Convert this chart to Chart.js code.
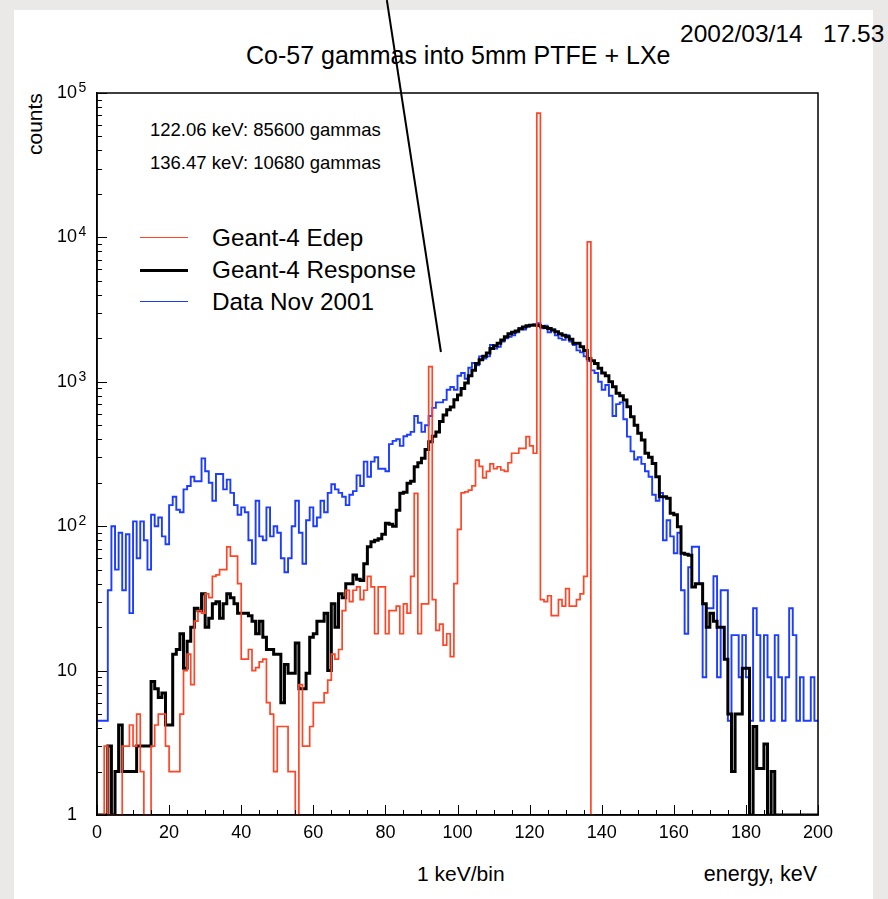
<!DOCTYPE html>
<html><head><meta charset="utf-8">
<script src="https://cdn.jsdelivr.net/npm/chart.js@4.4.0/dist/chart.umd.min.js"></script>
<style>
html,body{margin:0;padding:0;}
body{width:888px;height:899px;overflow:hidden;background:#ebe8e8;position:relative;font-family:"Liberation Sans",Arial,Helvetica,sans-serif;}
#panel{position:absolute;left:14px;top:10px;width:859px;height:889px;background:#fff;}
.t{position:absolute;white-space:pre;line-height:1;color:#000;}
.sw{position:absolute;left:140px;width:48px;height:0;}
canvas{position:absolute;left:0;top:0;}
</style></head><body>
<div id="panel"></div>
<div class="t" style="left:680px;top:22px;font-size:24.5px">2002/03/14   17.53</div>
<div class="t" style="left:246px;top:43px;font-size:25px">Co-57 gammas into 5mm PTFE + LXe</div>
<div class="t" style="left:150px;top:121px;font-size:18.5px">122.06 keV: 85600 gammas</div>
<div class="t" style="left:150px;top:154px;font-size:18.5px">136.47 keV: 10680 gammas</div>
<div class="sw" style="top:237px;border-top:1.5px solid #ff4526"></div>
<div class="sw" style="top:268.5px;border-top:3px solid #000"></div>
<div class="sw" style="top:301px;border-top:1.5px solid #1c3cff"></div>
<div class="t" style="left:212px;top:226px;font-size:24.3px">Geant-4 Edep</div>
<div class="t" style="left:212px;top:258px;font-size:24.3px">Geant-4 Response</div>
<div class="t" style="left:212px;top:290px;font-size:24.3px">Data Nov 2001</div>
<div class="t" style="left:24px;top:155px;font-size:21px;transform-origin:0 0;transform:rotate(-90deg)">counts</div>
<div class="t" style="left:417px;top:863px;font-size:21px">1 keV/bin</div>
<div class="t" style="right:71px;top:864px;font-size:21.5px">energy, keV</div>
<canvas id="c" width="888" height="899"></canvas>
<script>
// ---- data (1 keV bins, counts per bin; 1 = empty bin drawn on the axis) ----
const binWidth = 1;
const edepCounts = [
 1,1,3,1,1,1,1,3,3,4.2,
 3,5,2,1,1,3,4.2,5,5,3,
 2,2,2,5,10,13,8,22,26,25,
 34,32,45,46,50,50,72,62,62,40,
 12,12,14,10,10.5,11.5,12,6,5,2,
 4.1,4.1,4.1,2,2,1,8,3,3,4.1,
 6,6,6,7,8.6,13,12,14,26,36,
 30,36,38,31,36,45,38,18,38,38,
 18,26,26,28,18,29,25,45,169,18,
 29,29,1273,31,19,21,15,18,12.5,40,
 95,170,173,178,190,287,260,216,240,270,
 250,258,245,240,275,320,320,346,346,417,
 360,320,72600,31,30,33,24,24,31,28,
 37,28,28,31,34,45,9300,1
];
const responseCounts = [
 1,1,1,3,1,2,4.2,2,2,2,
 2,3,3,3,3,8.4,7.5,6.5,7,4.2,
 4.2,13,14,18,10.4,16,20,27,26,34,
 20,23,29,30,23,29,34,32,29,25,
 25,25,24,22,18,22,17,14,14,13,
 13,6,11,9.6,9.6,15.5,7.5,7.5,9.6,17,
 18,22,22,25,10,29,20,34,32,40,
 40,46,43,42,55,72,78,80,82,88,
 105,103,100,129,169,172,198,205,258,275,
 295,340,385,420,450,530,590,640,670,750,
 810,900,980,1100,1200,1340,1420,1500,1580,1700,
 1780,1850,1950,2050,2150,2200,2250,2330,2400,2440,
 2460,2470,2450,2420,2380,2340,2280,2220,2150,2100,
 2050,1970,1850,1850,1750,1650,1450,1400,1340,1240,
 1150,1100,1000,925,832,800,748,672,573,500,
 440,395,320,300,272,220,160,160,156,123,
 120,99,65,64,63,38,40,40,29,20,
 25,22,20,20,12,5,2,5,5,10.4,
 10.4,1,4.1,2.1,2.1,3.1,1,2,1,1,
 1,1,1,1,1,1,1,1,1,1
];
const dataNov2001Counts = [
 4.5,4.5,4.5,36,100,50,90,36,88,25,
 108,60,108,80,50,120,100,115,85,75,
 140,160,130,125,180,190,220,205,205,295,
 240,200,150,230,230,180,210,170,140,120,
 135,125,80,55,150,85,80,135,85,100,
 90,60,48,60,100,150,90,55,110,135,
 100,115,150,125,170,195,180,170,160,140,
 165,175,225,190,280,220,280,300,250,250,
 240,370,390,400,360,420,430,450,580,520,
 450,500,580,660,720,720,750,880,920,880,
 1100,1150,1050,1250,1350,1300,1500,1450,1500,1800,
 1700,1750,1900,2000,2050,2100,2200,2350,2300,2400,
 2480,2500,2550,2350,2450,2200,2300,2100,2000,1950,
 2100,1900,1800,1650,1600,1500,1400,1200,1150,1000,
 880,950,800,580,700,720,550,417,330,290,
 300,270,240,220,165,150,170,80,110,85,
 65,90,36,18,52,72,72,40,9,27,
 27,45,9,36,36,4.5,17.6,17.6,9,17.6,
 9,4.5,27,17.6,4.5,17.6,9,4.5,17.6,9,
 4.5,9,27,17.6,4.5,9,4.5,4.5,9,4.5
];
// ---- axes ----
const xTickValues = [0,20,40,60,80,100,120,140,160,180,200];
const xTickLabels = ['0','20','40','60','80','100','120','140','160','180','200'];
const xMinorStep = 5;
const yTickValues = [1,10,100,1000,10000,100000];
const yTickLabels = ['1','10','10','10','10','10'];
const yTickExponents = ['','','2','3','4','5'];
// annotation line (energy, counts) of its two ends
const arrowEnergy = [80.4, 95.4];
const arrowCounts = [440000, 1608];

const RED = '#ff4526', BLUE = '#1c3cff';
const Y_LABEL_PAD = 20;

function toSteps(arr){
  const pts = arr.map((v,i)=>({x:i*binWidth, y:v}));
  pts.push({x:arr.length*binWidth, y:arr[arr.length-1]});
  return pts;
}

const decor = {
  id:'decor',
  afterDraw(chart){
    const {ctx, chartArea:a, scales:{x,y}} = chart;
    ctx.save();
    ctx.strokeStyle = '#000';
    ctx.lineWidth = 1;
    ctx.beginPath();
    const xmin = xTickValues[0], xmax = xTickValues[xTickValues.length-1];
    for (let e = xmin; e <= xmax; e += xMinorStep){
      const px = Math.round(x.getPixelForValue(e)) + 0.5;
      const len = xTickValues.includes(e) ? 10 : 5;
      ctx.moveTo(px, a.bottom); ctx.lineTo(px, a.bottom - len);
    }
    yTickValues.forEach((dec,k)=>{
      const py = Math.round(y.getPixelForValue(dec)) + 0.5;
      ctx.moveTo(a.left, py); ctx.lineTo(a.left + 10, py);
      if (k < yTickValues.length - 1){
        for (let m = 2; m <= 9; m++){
          const p = Math.round(y.getPixelForValue(dec*m)) + 0.5;
          ctx.moveTo(a.left, p); ctx.lineTo(a.left + 5, p);
        }
      }
    });
    ctx.stroke();
    ctx.lineWidth = 1.5;
    ctx.strokeRect(a.left, a.top, a.right - a.left, a.bottom - a.top);
    // exponents of the decade labels
    ctx.fillStyle = '#000';
    ctx.font = '14px "Liberation Sans", Arial, sans-serif';
    ctx.textAlign = 'left';
    ctx.textBaseline = 'alphabetic';
    yTickValues.forEach((dec,k)=>{
      if (yTickExponents[k]) ctx.fillText(yTickExponents[k], a.left - Y_LABEL_PAD + 1.5, y.getPixelForValue(dec) - 1);
    });
    // annotation line
    ctx.lineWidth = 2;
    ctx.beginPath();
    ctx.moveTo(x.getPixelForValue(arrowEnergy[0]), y.getPixelForValue(arrowCounts[0]));
    ctx.lineTo(x.getPixelForValue(arrowEnergy[1]), y.getPixelForValue(arrowCounts[1]));
    ctx.stroke();
    ctx.restore();
  }
};

const tickFont = {family:'"Liberation Sans", Arial, sans-serif', size:18};

new Chart(document.getElementById('c'), {
  type:'line',
  data:{datasets:[
    {label:'Geant-4 Edep', data:toSteps(edepCounts), borderColor:RED, borderWidth:1.7, order:0},
    {label:'Geant-4 Response', data:toSteps(responseCounts), borderColor:'#000', borderWidth:3, order:1},
    {label:'Data Nov 2001', data:toSteps(dataNov2001Counts), borderColor:BLUE, borderWidth:1.9, order:2}
  ]},
  options:{
    responsive:false, animation:false, devicePixelRatio:1,
    layout:{padding:{left:0, right:70, top:93, bottom:0}},
    plugins:{legend:{display:false}, tooltip:{enabled:false}, title:{display:false}},
    elements:{point:{radius:0}, line:{stepped:'before', tension:0, fill:false, borderJoinStyle:'miter'}},
    scales:{
      x:{type:'linear', min:0, max:200,
        afterFit(s){ s.height = 84; },
        afterBuildTicks(s){ s.ticks = xTickValues.map(v=>({value:v})); },
        ticks:{color:'#000', font:tickFont, padding:7, maxRotation:0, autoSkip:false,
          callback:(v)=>{ const i = xTickValues.indexOf(v); return i>=0 ? xTickLabels[i] : ''; }},
        grid:{display:false, drawTicks:false},
        border:{display:true, color:'#000', width:1.5}
      },
      y:{type:'logarithmic', min:1, max:100000,
        afterFit(s){ s.width = 97; },
        afterBuildTicks(s){ s.ticks = yTickValues.map(v=>({value:v})); },
        ticks:{color:'#000', font:tickFont, padding:Y_LABEL_PAD, autoSkip:false,
          callback:(v)=>{ const i = yTickValues.indexOf(v); return i>=0 ? yTickLabels[i] : ''; }},
        grid:{display:false, drawTicks:false},
        border:{display:true, color:'#000', width:1.5}
      }
    }
  },
  plugins:[decor]
});
</script>
</body></html>
